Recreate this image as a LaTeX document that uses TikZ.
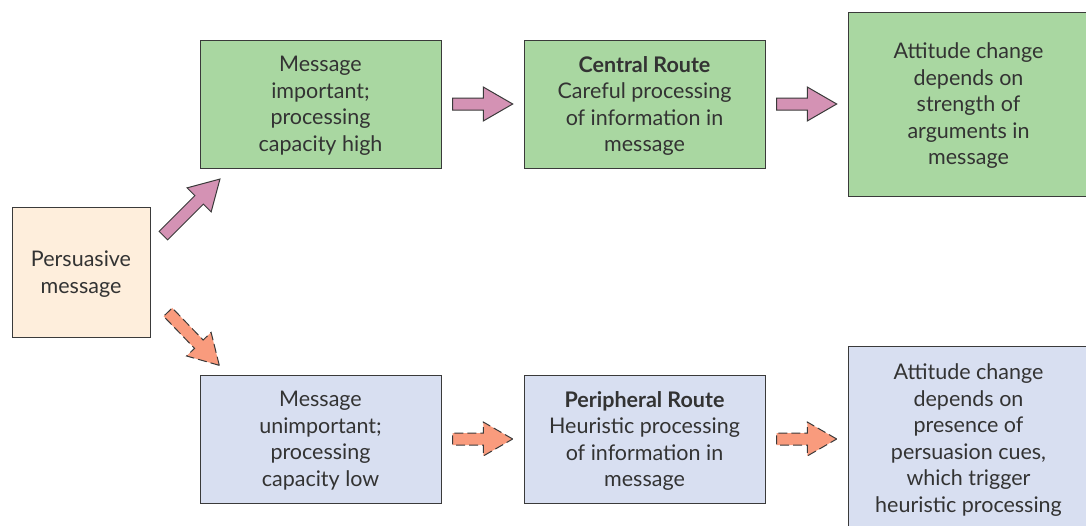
\documentclass[tikz,border=0pt]{standalone}
\usepackage{fontspec}
\setmainfont{Lato}
\usepackage{tikz}
\usetikzlibrary{shapes.arrows, positioning}

\definecolor{routegreen}{HTML}{A9D7A1}
\definecolor{routeblue}{HTML}{D8DFF1}
\definecolor{startpeach}{HTML}{FEEEDC}
\definecolor{centralpink}{HTML}{D492B4}
\definecolor{periphsalmon}{HTML}{F99B7D}
\definecolor{edgegray}{HTML}{3A3A3A}
\definecolor{textgray}{HTML}{333333}

\begin{document}
\begin{tikzpicture}[x=1pt, y=-1pt, node distance=82pt]
    \tikzstyle{box} = [rectangle, draw=edgegray, line width=1pt, text=textgray, align=center, inner sep=0pt, font=\fontsize{21.5}{26.5}\selectfont, text depth=-7.5pt, minimum width=241pt, minimum height=128pt]
    \tikzstyle{tall} = [box, minimum height=184pt]
    \tikzstyle{fat} = [single arrow, draw=edgegray, line width=1pt, inner xsep=0pt, inner ysep=5.5pt, single arrow head extend=11pt, single arrow tip angle=60]
    \tikzstyle{central} = [fat, fill=centralpink]
    \tikzstyle{periph} = [fat, fill=periphsalmon, dash pattern=on 9pt off 4pt]

    \useasboundingbox (0,0) rectangle (1086,525);

    \node [box, fill=startpeach, minimum width=138pt, minimum height=130pt] (persuade) at (81,272) {Persuasive\\message};

    % central route
    \node [box, fill=routegreen] (important) at (320.5,104) {Message\\important;\\processing\\capacity high};
    \node [box, fill=routegreen, right=of important] (centralroute) {\textbf{Central Route}\\Careful processing\\of information in\\message};
    \node [tall, fill=routegreen, right=of centralroute] (strength) {Attitude change\\depends on\\strength of\\arguments in\\message};

    % peripheral route
    \node [box, fill=routeblue] (unimportant) at (320.5,439) {Message\\unimportant;\\processing\\capacity low};
    \node [box, fill=routeblue, right=of unimportant] (periphroute) {\textbf{Peripheral Route}\\Heuristic processing\\of information in\\message};
    \node [tall, fill=routeblue, right=of periphroute, yshift=1pt] (cues) {Attitude change\\depends on\\presence of\\persuasion cues,\\which trigger\\heuristic processing};

    % arrows
    \node [central, minimum height=80pt, rotate=45] (up) at (188,211) {};
    \node [periph, minimum height=74pt, rotate=-46] (down) at (190,335) {};
    \path (important) -- (centralroute) node [central, midway, xshift=-5pt, minimum height=60pt] (c1) {};
    \path (centralroute) -- (strength) node [central, midway, xshift=-5pt, minimum height=60pt] (c2) {};
    \path (unimportant) -- (periphroute) node [periph, midway, xshift=-5pt, minimum height=60pt] (p1) {};
    \path (periphroute.east) -- (cues.west |- periphroute.east) node [periph, midway, xshift=-5pt, minimum height=60pt] (p2) {};
\end{tikzpicture}
\end{document}
